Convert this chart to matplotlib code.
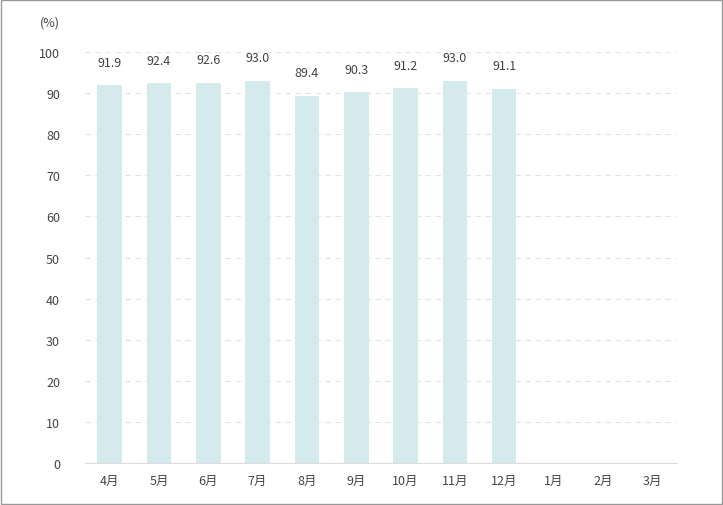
import matplotlib
matplotlib.use('Agg')
import matplotlib.pyplot as plt
from matplotlib.patches import Rectangle

plt.rcParams['font.family'] = ['Noto Sans CJK JP', 'DejaVu Sans']

months = ['4月', '5月', '6月', '7月', '8月', '9月', '10月', '11月', '12月', '1月', '2月', '3月']
values = [91.9, 92.4, 92.6, 93.0, 89.4, 90.3, 91.2, 93.0, 91.1]
yticks = list(range(0, 101, 10))

fig = plt.figure(figsize=(7.23, 5.06), dpi=100)
ax = fig.add_axes([0.1176, 0.083, 0.8184, 0.812])

x = list(range(len(values)))
ax.bar(x, values, width=0.5, color='#d5eaec', zorder=2)
for xi, v in zip(x, values):
    ax.text(xi, v + 4, f'{v:.1f}', ha='center', va='bottom', fontsize=9, color='#444444')

ax.set_xlim(-0.5, len(months) - 0.5)
ax.set_ylim(0, 100)
ax.set_xticks(range(len(months)))
ax.set_xticklabels(months)
ax.set_yticks(yticks)
ax.yaxis.grid(True, linestyle=(0, (5, 4)), color='#e3e3e3', linewidth=0.8, zorder=0)
ax.tick_params(length=0, labelsize=9, colors='#444444', pad=8)
ax.tick_params(axis='y', pad=18)
for s in ['top', 'right', 'left']:
    ax.spines[s].set_visible(False)
ax.spines['bottom'].set_color('#dddddd')

fig.text(0.055, 0.955, '(%)', fontsize=9, color='#444444', va='center')
fig.patches.append(Rectangle((0.001, 0.001), 0.998, 0.998, transform=fig.transFigure,
                             fill=False, edgecolor='#999999', linewidth=1))

fig.savefig('out.png', dpi=100, facecolor='white')
